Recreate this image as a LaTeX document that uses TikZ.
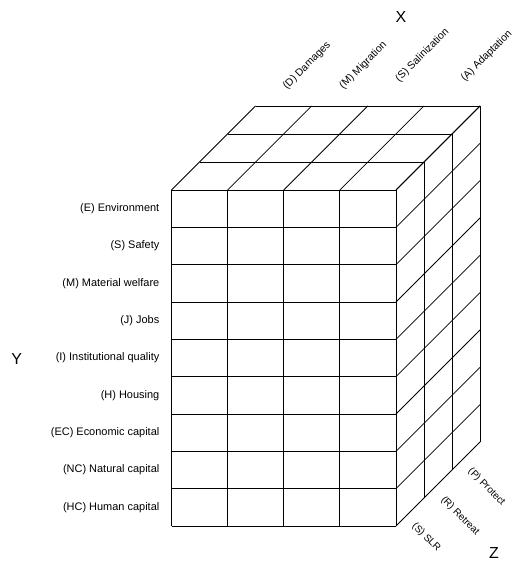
\documentclass[tikz,border=0pt]{standalone}
\usepackage{fontspec}
\setmainfont{Liberation Sans}
\begin{document}
\begin{tikzpicture}[x=1bp,y=-1bp,
  grid/.style={line width=0.8bp, black},
  rowlab/.style={font=\fontsize{11}{13}\selectfont, anchor=east, inner sep=0pt},
  collab/.style={font=\fontsize{10.5}{12}\selectfont, inner sep=0pt, rotate=45, anchor=south west},
  zlab/.style={font=\fontsize{10}{12}\selectfont, inner sep=0pt, rotate=-45, anchor=north west},
  axislab/.style={font=\fontsize{16}{19}\selectfont, inner sep=0pt}]
\useasboundingbox (0,0) rectangle (520,561);
% front face verticals and top-face diagonals
\foreach \i in {0,...,4} {
  \pgfmathsetmacro\xx{171.5+56.125*\i}
  \draw[grid] (\xx,190) -- (\xx,526);
  \draw[grid] (\xx,190) -- (\xx+84,106);
}
% front face horizontals and right-face diagonals
\foreach \j in {0,...,9} {
  \pgfmathsetmacro\yy{190+37.333*\j}
  \draw[grid] (171.5,\yy) -- (396,\yy);
  \draw[grid] (396,\yy) -- (480,\yy-84);
}
% depth layers
\foreach \k in {1,2,3} {
  \draw[grid] (171.5+28*\k,190-28*\k) -- (396+28*\k,190-28*\k) -- (396+28*\k,526-28*\k);
}
% row labels
\node[rowlab] (rE)  at (159.5,208.7) {(E) Environment};
\node[rowlab] (rS)  at (159.5,246.0) {(S) Safety};
\node[rowlab] (rM)  at (159.5,283.3) {(M) Material welfare};
\node[rowlab] (rJ)  at (159.5,320.7) {(J) Jobs};
\node[rowlab] (rI)  at (159.5,358.0) {(I) Institutional quality};
\node[rowlab] (rH)  at (159.5,395.3) {(H) Housing};
\node[rowlab] (rEC) at (159.5,432.7) {(EC) Economic capital};
\node[rowlab] (rNC) at (159.5,470.0) {(NC) Natural capital};
\node[rowlab] (rHC) at (159.5,507.3) {(HC) Human capital};
% column labels
\node[collab] (cD) at (288.5,91.5) {(D) Damages};
\node[collab] (cM) at (345,91) {(M) Migration};
\node[collab] (cS) at (401,84) {(S) Salinization};
\node[collab] (cA) at (466.5,83.5) {(A) Adaptation};
% depth labels
\node[zlab] (zP) at (473,466.5) {(P) Protect};
\node[zlab] (zR) at (446,495) {(R) Retreat};
\node[zlab] (zS) at (417,521.5) {(S) SLR};
% axes
\node[axislab] (ax) at (401,17.5) {X};
\node[axislab] (ay) at (16.7,359) {Y};
\node[axislab] (az) at (494,553.5) {Z};
\end{tikzpicture}
\end{document}
